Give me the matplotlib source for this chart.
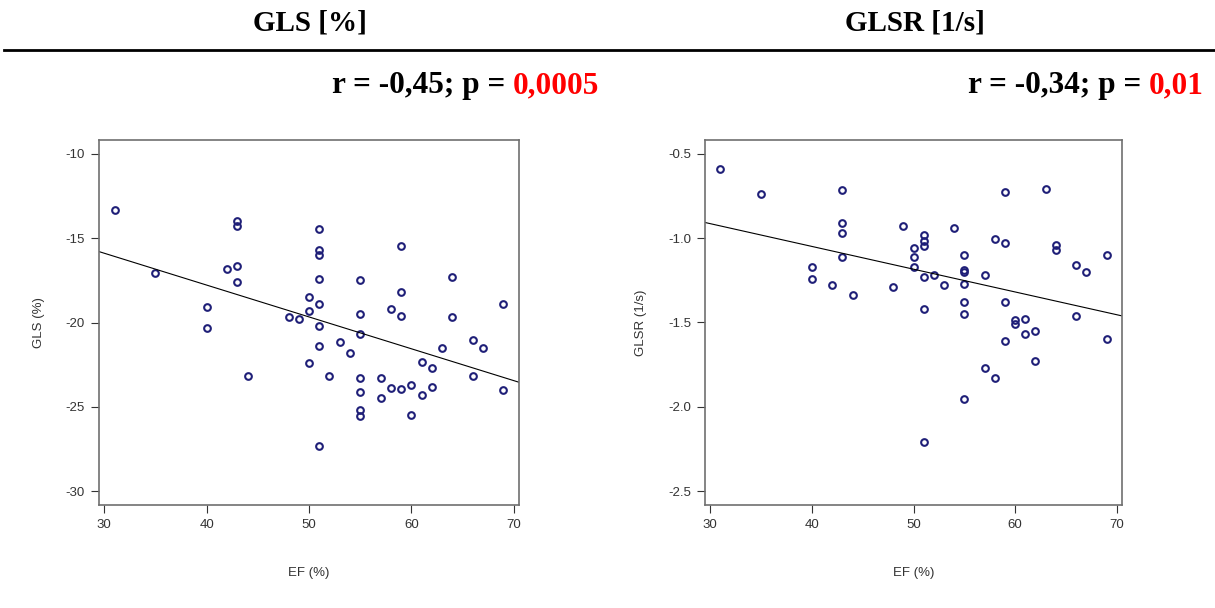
import numpy as np
import matplotlib.pyplot as plt

# EF (%) vs GLS (%)
ef_gls = [31, 35, 40, 40, 42, 43, 43, 43, 43, 44, 48, 49, 50, 50, 50,
          51, 51, 51, 51, 51, 51, 51, 51, 52, 53, 54, 55, 55, 55, 55,
          55, 55, 55, 57, 57, 58, 58, 59, 59, 59, 59, 60, 60, 61, 61,
          62, 62, 63, 64, 64, 66, 66, 67, 69, 69]
gls = [-13.35, -17.1, -19.1, -20.35, -16.85, -14.0, -14.3, -16.65, -17.6, -23.15,
       -19.7, -19.8, -18.5, -19.3, -22.4,
       -14.45, -15.7, -16.0, -17.4, -18.9, -20.2, -21.4, -27.3, -23.15, -21.15,
       -21.8, -17.5, -19.5, -20.7, -23.3,
       -24.1, -25.2, -25.55, -23.3, -24.45, -19.2, -23.9, -15.5, -18.2, -19.6,
       -23.95, -23.7, -25.5, -22.35, -24.3,
       -22.7, -23.8, -21.5, -17.3, -19.7, -21.05, -23.15, -21.5, -18.9, -24.0]

# EF (%) vs GLSR (1/s)
ef_glsr = [31, 35, 40, 40, 42, 43, 43, 43, 43, 44, 48, 49, 50, 50, 50,
           51, 51, 51, 51, 51, 51, 52, 53, 54, 55, 55, 55, 55, 55, 55,
           55, 57, 57, 58, 58, 59, 59, 59, 59, 60, 60, 61, 61, 62, 62,
           63, 64, 64, 66, 66, 67, 69, 69]
glsr = [-0.59, -0.74, -1.17, -1.24, -1.28, -0.715, -0.91, -0.97, -1.11, -1.34,
        -1.29, -0.93, -1.06, -1.11, -1.17,
        -0.98, -1.02, -1.05, -1.23, -1.42, -2.21, -1.22, -1.28, -0.94, -1.10,
        -1.19, -1.20, -1.27, -1.38, -1.45,
        -1.95, -1.22, -1.77, -1.006, -1.83, -0.73, -1.03, -1.38, -1.61, -1.485,
        -1.51, -1.48, -1.57, -1.55, -1.73,
        -0.71, -1.04, -1.07, -1.16, -1.46, -1.2, -1.10, -1.60]

# regression lines as drawn (intercept, slope)
fit_gls = (-10.25, -0.1884)
fit_glsr = (-0.511, -0.01347)

headers = ['GLS [%]', 'GLSR [1/s]']
stats = [('r = -0,45; p = ', '0,0005'), ('r = -0,34; p = ', '0,01')]

fig = plt.figure(figsize=(12.15, 6.08), dpi=100)

serif = ['Liberation Serif', 'DejaVu Serif']
sans = ['Liberation Sans', 'DejaVu Sans']
W, H = 1215, 608

# headers and the rule under them
fig.text(310 / W, 1 - 23 / H, headers[0], ha='center', va='center',
         fontsize=21, fontweight='bold', family=serif)
fig.text(915 / W, 1 - 23 / H, headers[1], ha='center', va='center',
         fontsize=21, fontweight='bold', family=serif)
fig.add_artist(plt.Line2D([4 / W, 1], [1 - 50 / H, 1 - 50 / H], color='black', lw=2))

# r / p annotations, red p value right-aligned, black part in front of it
fig.canvas.draw()
renderer = fig.canvas.get_renderer()
for xr, (black, red) in zip([599, 1204], stats):
    t = fig.text(xr / W, 1 - 86 / H, red, ha='right', va='center', color='red',
                 fontsize=22.5, fontweight='bold', family=serif)
    bb = t.get_window_extent(renderer)
    fig.text(bb.x0 / W, 1 - 86 / H, black, ha='right', va='center', color='black',
             fontsize=22.5, fontweight='bold', family=serif)

panels = [
    (ef_gls, gls, fit_gls, [99, 519], (-30, -10), [-30, -25, -20, -15, -10],
     ['-30', '-25', '-20', '-15', '-10'], 'GLS (%)'),
    (ef_glsr, glsr, fit_glsr, [705, 1122], (-2.5, -0.5), [-2.5, -2.0, -1.5, -1.0, -0.5],
     ['-2.5', '-2.0', '-1.5', '-1.0', '-0.5'], 'GLSR (1/s)'),
]

for x, y, (b0, b1), (px0, px1), (ylo, yhi), yt, ytl, ylab in panels:
    ax = fig.add_axes([px0 / W, 1 - 505 / H, (px1 - px0) / W, 365 / H])
    ax.plot(x, y, 'o', mfc='none', mec='#1f1f78', ms=4.8, mew=1.5)
    ax.axline((0, b0), slope=b1, color='black', lw=0.8)
    # R style 4% padding
    ax.set_xlim(31 - 0.04 * 38, 69 + 0.04 * 38)
    pad = 0.04 * (yhi - ylo)
    ax.set_ylim(ylo - pad, yhi + pad)
    ax.set_xticks([30, 40, 50, 60, 70])
    ax.set_yticks(yt)
    ax.set_yticklabels(ytl)
    ax.tick_params(direction='out', length=6, width=0.8, color='#333333',
                   labelsize=9.5, labelcolor='#333333', pad=4)
    for lab in ax.get_xticklabels() + ax.get_yticklabels():
        lab.set_family(sans)
    for s in ax.spines.values():
        s.set_color('#707070')
        s.set_linewidth(1.2)
    ax.set_xlabel('EF (%)', fontsize=9.5, color='#333333', family=sans, labelpad=26)
    ax.set_ylabel(ylab, fontsize=9.5, color='#333333', family=sans, labelpad=15)

fig.savefig('out.png', dpi=100)
